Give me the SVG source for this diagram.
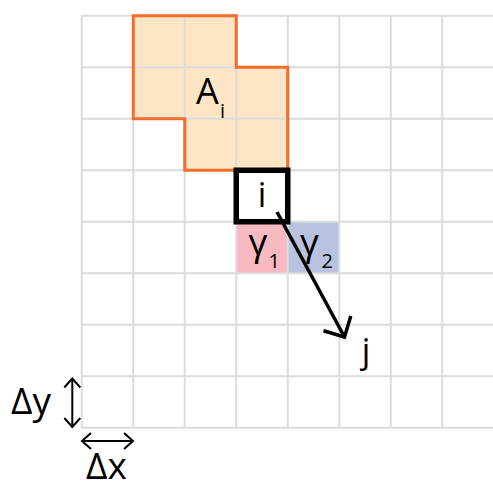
<svg xmlns="http://www.w3.org/2000/svg" width="493" height="486" viewBox="0 0 493 486">
<defs>
<style>
.grid{stroke:#dcdcdc;stroke-width:2;fill:none}
.t{font-family:"Open Sans","Noto Sans",sans-serif;fill:#000}
</style>
<marker id="bighead" markerUnits="userSpaceOnUse" orient="auto" markerWidth="40" markerHeight="40" refX="0" refY="0" viewBox="-20 -20 40 40" overflow="visible">
<path d="M-15.5,-15.5 L0,0 L-15.5,15.5" fill="none" stroke="#000" stroke-width="3.5"/>
</marker>
<marker id="smallhead" markerUnits="userSpaceOnUse" orient="auto-start-reverse" markerWidth="20" markerHeight="20" refX="0" refY="0" viewBox="-10 -10 20 20" overflow="visible">
<path d="M-9,-8 L0,0 L-9,8" fill="none" stroke="#000" stroke-width="2"/>
</marker>
</defs>
<rect width="493" height="486" fill="#fff"/>
<g id="region-fill">
<path d="M133.25,15.75 H236.25 V67.25 H287.75 V170.25 H184.75 V118.75 H133.25 Z" fill="#fde5c6"/>
<rect x="236.25" y="221.75" width="51.5" height="51.5" fill="#f8b9c0"/>
<rect x="287.75" y="221.75" width="51.5" height="51.5" fill="#b9c3e0"/>
</g>
<g id="grid" class="grid">
<path d="M81.75,15.75 V427.75 M133.25,15.75 V427.75 M184.75,15.75 V427.75 M236.25,15.75 V427.75 M287.75,15.75 V427.75 M339.25,15.75 V427.75 M390.75,15.75 V427.75 M442.25,15.75 V427.75"/>
<path d="M81.75,15.75 H493 M81.75,67.25 H493 M81.75,118.75 H493 M81.75,170.25 H493 M81.75,221.75 H493 M81.75,273.25 H493 M81.75,324.75 H493 M81.75,376.25 H493 M81.75,427.75 H493"/>
</g>
<g id="node-Ai">
<path d="M133.25,15.75 H236.25 V67.25 H287.75 V170.25 H184.75 V118.75 H133.25 Z" fill="none" stroke="#f26c2a" stroke-width="3"/>
<text class="t" x="196" y="104" font-size="36">A</text>
<text class="t" x="220" y="117.5" font-size="20">i</text>
</g>
<g id="node-i">
<rect x="236.25" y="170.25" width="51.5" height="51.5" fill="none" stroke="#000" stroke-width="5.5"/>
<text class="t" x="262" y="207" font-size="34" text-anchor="middle">i</text>
</g>
<g id="node-gamma1">
<text class="t" x="248.5" y="255" font-size="37">γ</text>
<text class="t" x="268.5" y="268" font-size="20">1</text>
</g>
<g id="node-gamma2">
<text class="t" x="300" y="255" font-size="37">γ</text>
<text class="t" x="321.5" y="268" font-size="20">2</text>
</g>
<g id="node-j">
<text class="t" x="366" y="363" font-size="34" text-anchor="middle">j</text>
</g>
<g id="connectors">
<line x1="277" y1="212" x2="344.5" y2="337" stroke="#000" stroke-width="3.5" marker-end="url(#bighead)"/>
<line x1="72.3" y1="378.5" x2="72.3" y2="427" stroke="#000" stroke-width="2" marker-start="url(#smallhead)" marker-end="url(#smallhead)"/>
<line x1="82" y1="441" x2="133" y2="441" stroke="#000" stroke-width="2" marker-start="url(#smallhead)" marker-end="url(#smallhead)"/>
</g>
<g id="labels">
<text class="t" x="11" y="414" font-size="37">Δy</text>
<text class="t" x="86" y="479" font-size="37">Δx</text>
</g>
</svg>
